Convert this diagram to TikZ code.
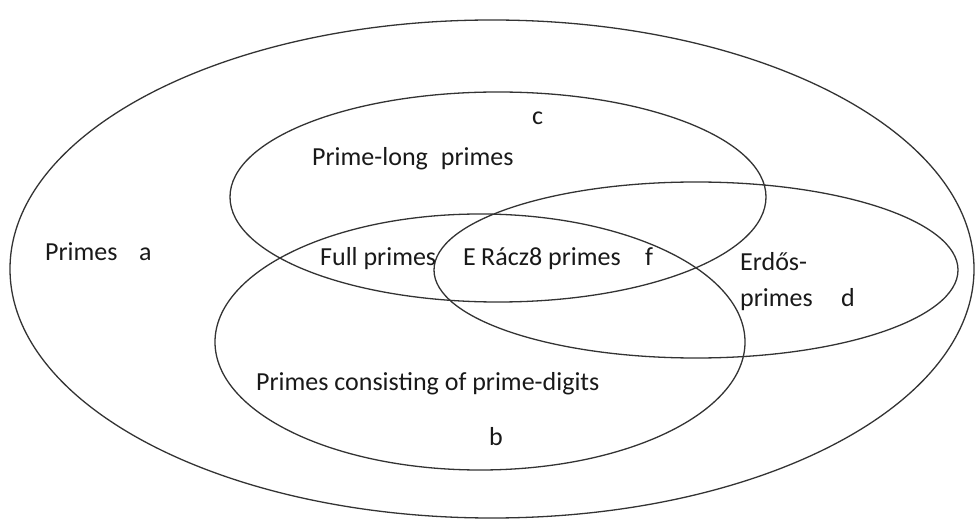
\documentclass[tikz,border=0pt]{standalone}
\usepackage{fontspec}
\setmainfont{Carlito}
\begin{document}
\begin{tikzpicture}[x=1pt,y=-1pt,
  ell/.style={draw=black!80,line width=1.3pt},
  lbl/.style={inner sep=0pt,anchor=base west,font=\fontsize{26}{30}\selectfont,text=black!90}]
\useasboundingbox (0,0) rectangle (979,526);
\draw[ell] (492,269) ellipse [x radius=482,y radius=249];
\draw[ell] (498,197) ellipse [x radius=268,y radius=105];
\draw[ell] (480,342) ellipse [x radius=265,y radius=128];
\draw[ell] (696,270) ellipse [x radius=262,y radius=88];
\node[lbl] (pa) at (45,261) {Primes};
\node[lbl] (a) at (139,261) {a};
\node[lbl] (c) at (532,125) {c};
\node[lbl] (pl) at (312,166) {Prime-long\hspace{0.5em}primes};
\node[lbl] (fp) at (320,266) {Full primes};
\node[lbl] (e) at (463,266) {E};
\node[lbl,fill=white,inner ysep=2pt] (rp) at (481,266) {Rácz8 primes};
\node[lbl] (f) at (645,266) {f};
\node[lbl] (er) at (740,271) {Erdős-};
\node[lbl] (ep) at (740,307) {primes};
\node[lbl] (d) at (841,307) {d};
\node[lbl] (pd) at (256,390) {Primes consisting of prime-digits};
\node[lbl] (b) at (489,445) {b};
\end{tikzpicture}
\end{document}
